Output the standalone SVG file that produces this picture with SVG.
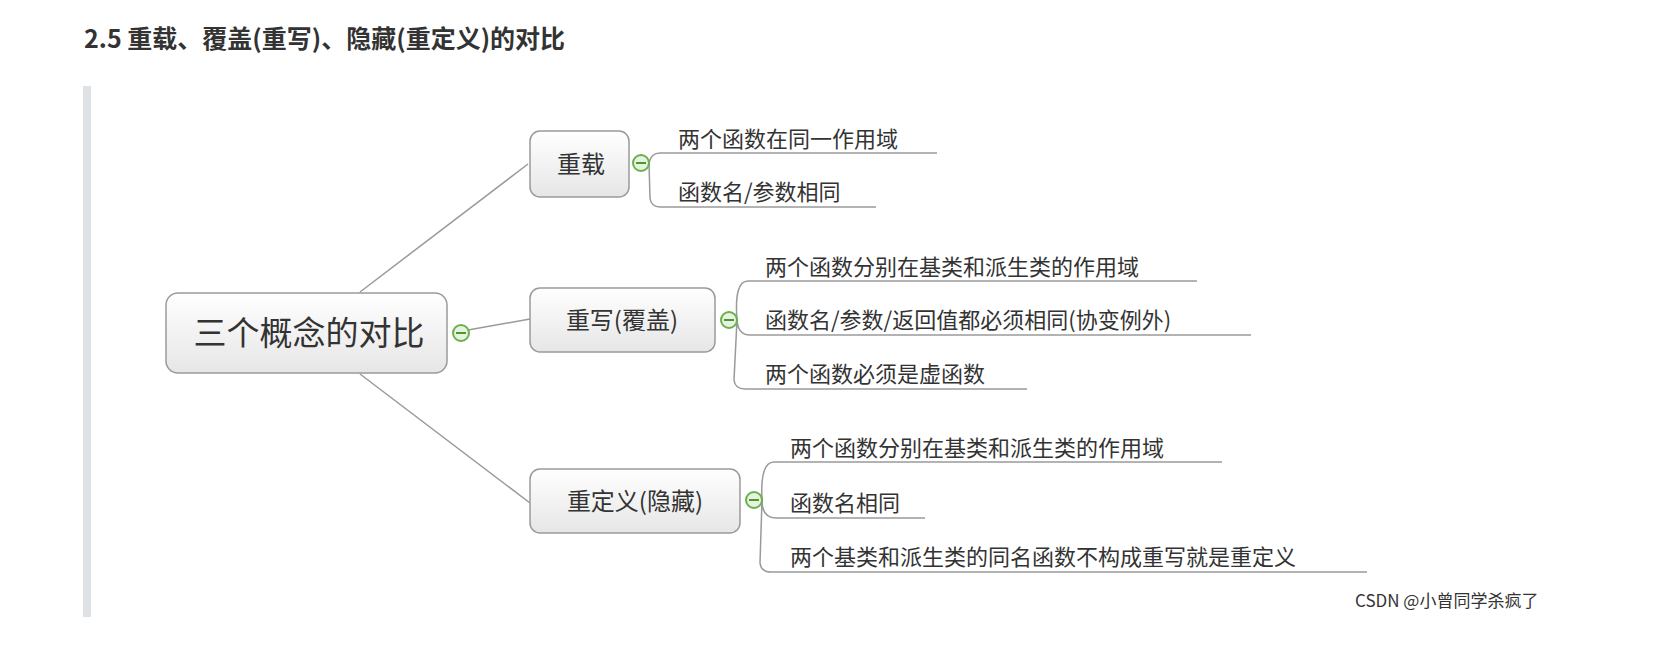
<svg xmlns="http://www.w3.org/2000/svg" width="1664" height="657" viewBox="0 0 1664 657">
<defs>
<linearGradient id="g" x1="0" y1="0" x2="0" y2="1"><stop offset="0" stop-color="#ffffff"/><stop offset="1" stop-color="#e6e6e6"/></linearGradient>
<style>
.t{font-family:"Noto Sans CJK SC","Liberation Sans",sans-serif;fill:#333}
.box{fill:url(#g);stroke:#9a9a9a;stroke-width:1.5}
.c{fill:none;stroke:#9a9a9a;stroke-width:1.5}
.tg{fill:#e8f2e0;stroke:#6ab04c;stroke-width:2}
</style>
</defs>
<rect width="1664" height="657" fill="#fff"/>
<text x="84" y="48" class="t" font-size="25" font-weight="bold" fill="#222">2.5 重载、覆盖(重写)、隐藏(重定义)的对比</text>
<rect x="83" y="86" width="8" height="531" fill="#dfe2e5"/>
<g id="connectors">
<path class="c" d="M360 292 L528 164 M468 330 L530 319 M360 374 L530 503"/>
<path class="c" d="M649 163 Q651 153 660 153 L937 153 M649 163 L650 198 Q651 207 660 207 L876 207"/>
<path class="c" d="M737 320 Q734 281 748 281 L1197 281 M737 320 Q738 335 750 335 L1251 335 M737 320 L734 380 Q735 389 745 389 L1027 389"/>
<path class="c" d="M762 500 Q760 462 774 462 L1222 462 M762 500 Q762 518 776 518 L925 518 M762 500 L760 563 Q761 572 771 572 L1367 572"/>
</g>
<g id="root"><rect class="box" x="166" y="293" width="281" height="80" rx="12"/><text class="t" x="309" y="345" font-size="33" text-anchor="middle" fill="#555">三个概念的对比</text><circle class="tg" cx="461" cy="333" r="8"/><path d="M456 333h10" stroke="#4a9a2a" stroke-width="2"/></g>
<g id="n1"><rect class="box" x="530" y="131" width="99" height="66" rx="10"/><text class="t" x="581" y="173" font-size="24" text-anchor="middle">重载</text><circle class="tg" cx="641" cy="163" r="8"/><path d="M636 163h10" stroke="#4a9a2a" stroke-width="2"/></g>
<g id="n2"><rect class="box" x="530" y="288" width="185" height="64" rx="10"/><text class="t" x="622" y="329" font-size="24" text-anchor="middle">重写(覆盖)</text><circle class="tg" cx="729" cy="320" r="8"/><path d="M724 320h10" stroke="#4a9a2a" stroke-width="2"/></g>
<g id="n3"><rect class="box" x="530" y="469" width="210" height="64" rx="10"/><text class="t" x="635" y="510" font-size="24" text-anchor="middle">重定义(隐藏)</text><circle class="tg" cx="754" cy="500" r="8"/><path d="M749 500h10" stroke="#4a9a2a" stroke-width="2"/></g>
<g id="leaves" class="t" font-size="22">
<text x="678" y="147">两个函数在同一作用域</text>
<text x="678" y="200">函数名/参数相同</text>
<text x="765" y="275">两个函数分别在基类和派生类的作用域</text>
<text x="765" y="328">函数名/参数/返回值都必须相同(协变例外)</text>
<text x="765" y="382">两个函数必须是虚函数</text>
<text x="790" y="456">两个函数分别在基类和派生类的作用域</text>
<text x="790" y="511">函数名相同</text>
<text x="790" y="565">两个基类和派生类的同名函数不构成重写就是重定义</text>
</g>
<text x="1355" y="607" class="t" font-size="17" fill="#999">CSDN @小曾同学杀疯了</text>
</svg>
